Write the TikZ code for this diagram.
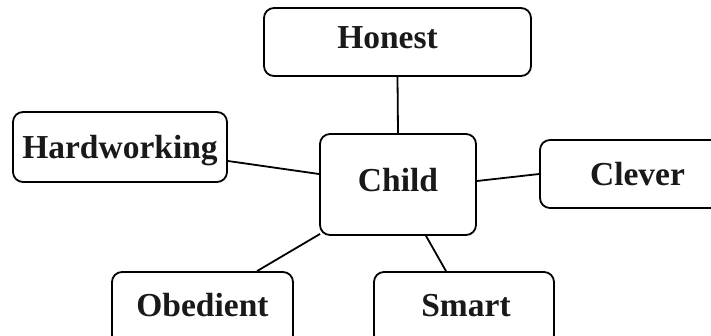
\documentclass[tikz,border=0pt]{standalone}
\usepackage{fontspec}
\setmainfont{Liberation Serif}
\begin{document}
\begin{tikzpicture}[x=1pt,y=-1pt,
  box/.style={draw, line width=1.8pt, rounded corners=10pt, fill=white,
    inner sep=0pt, text height=22pt, text depth=0pt,
    font=\fontsize{33.5}{40}\selectfont\bfseries, text=black!90},
  link/.style={line width=1.8pt}]
\clip (0,0) rectangle (711,335);
\node[box, minimum width=267pt, minimum height=68pt] (honest) at (397.5,42) {\raisebox{5pt}{\hspace*{-20pt}Honest}};
\node[box, minimum width=214pt, minimum height=70pt] (hard) at (120,147) {Hardworking};
\node[box, minimum width=156pt, minimum height=101pt] (child) at (398,184.5) {\raisebox{4pt}{Child}};
\node[box, minimum width=200pt, minimum height=68pt] (clever) at (640,174) {\hspace*{-5pt}Clever};
\node[box, minimum width=181pt, minimum height=73pt] (obed) at (202.5,308.5) {\raisebox{3.5pt}{Obedient}};
\node[box, minimum width=180pt, minimum height=73pt] (smart) at (464,308.5) {\raisebox{3.5pt}{\hspace*{4pt}Smart}};
\draw[link] (honest.south) -- (child.north);
\draw[link] ([yshift=-14pt]hard.east) -- ([yshift=10.5pt]child.west);
\draw[link] ([yshift=3.5pt]child.east) -- (clever.west);
\draw[link] ([xshift=1pt,yshift=2pt]child.south west) -- ([xshift=54.5pt]obed.north);
\draw[link] ([xshift=28pt]child.south) -- ([xshift=-18pt]smart.north);
\end{tikzpicture}
\end{document}
